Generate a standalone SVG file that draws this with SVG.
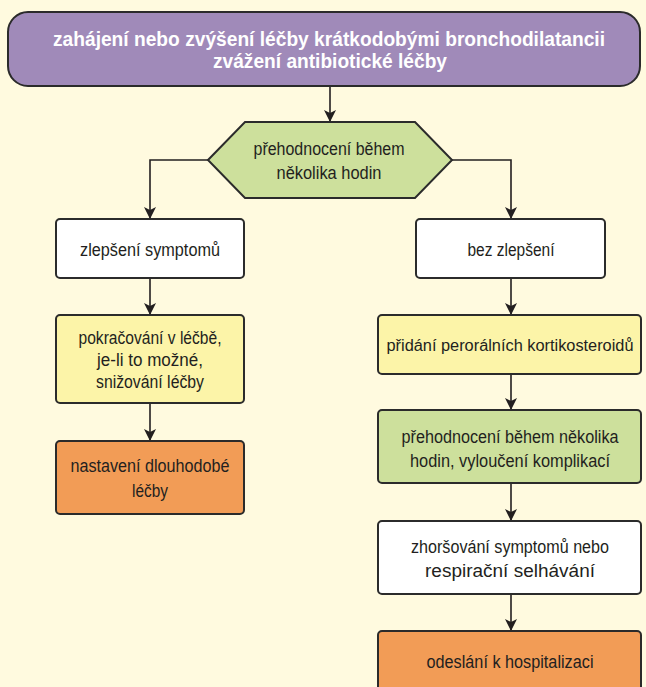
<svg xmlns="http://www.w3.org/2000/svg" width="646" height="687" viewBox="0 0 646 687">
<defs>
<marker id="ah" viewBox="0 0 12 12" refX="11" refY="6" markerWidth="12" markerHeight="12" markerUnits="userSpaceOnUse" orient="auto">
<path d="M0,0 L12,6 L0,12 L3,6 z" fill="#231F20"/>
</marker>
<style>
.bx{stroke:#2B2B2B;stroke-width:2}
.t{font-family:"Liberation Sans",Arial,sans-serif;font-size:17.5px;fill:#231F20;text-anchor:middle}
.tt{font-family:"Liberation Sans",Arial,sans-serif;font-size:19.5px;font-weight:bold;fill:#FFFFFF;text-anchor:middle}
.c{fill:none;stroke:#231F20;stroke-width:1.6}
</style>
</defs>
<rect x="0" y="0" width="646" height="687" fill="#FFFADF"/>
<g id="connectors">
<path class="c" d="M330,87 V121" marker-end="url(#ah)"/>
<path class="c" d="M208,160 H150 V218" marker-end="url(#ah)"/>
<path class="c" d="M452,160 H511 V218" marker-end="url(#ah)"/>
<path class="c" d="M150,278 V314" marker-end="url(#ah)"/>
<path class="c" d="M150,403 V440" marker-end="url(#ah)"/>
<path class="c" d="M511,278 V314" marker-end="url(#ah)"/>
<path class="c" d="M511,374 V409" marker-end="url(#ah)"/>
<path class="c" d="M511,483 V520" marker-end="url(#ah)"/>
<path class="c" d="M511,594 V630" marker-end="url(#ah)"/>
</g>
<g id="start">
<rect class="bx" x="8" y="12" width="632" height="74" rx="20" fill="#A08AB9"/>
<text class="tt" x="329" y="46" textLength="552" lengthAdjust="spacingAndGlyphs">zahájení nebo zvýšení léčby krátkodobými bronchodilatancii</text>
<text class="tt" x="330" y="68" textLength="234" lengthAdjust="spacingAndGlyphs">zvážení antibiotické léčby</text>
</g>
<g id="reassess">
<polygon class="bx" points="208,160 245,122 415,122 452,160 415,198 245,198" fill="#CDE09C"/>
<text class="t" x="329" y="155" textLength="151" lengthAdjust="spacingAndGlyphs">přehodnocení během</text>
<text class="t" x="329" y="179" textLength="105" lengthAdjust="spacingAndGlyphs">několika hodin</text>
</g>
<g id="improved">
<rect class="bx" x="56" y="219" width="188" height="59" rx="4" fill="#FFFFFF"/>
<text class="t" x="150" y="256" textLength="140" lengthAdjust="spacingAndGlyphs">zlepšení symptomů</text>
</g>
<g id="continue">
<rect class="bx" x="56" y="315" width="188" height="88" rx="4" fill="#FCF4A8"/>
<text class="t" x="150" y="344" textLength="143" lengthAdjust="spacingAndGlyphs">pokračování v léčbě,</text>
<text class="t" x="150" y="366" textLength="106" lengthAdjust="spacingAndGlyphs">je-li to možné,</text>
<text class="t" x="150" y="388" textLength="108" lengthAdjust="spacingAndGlyphs">snižování léčby</text>
</g>
<g id="longterm">
<rect class="bx" x="56" y="441" width="188" height="73" rx="4" fill="#F29C56"/>
<text class="t" x="150" y="472" textLength="159" lengthAdjust="spacingAndGlyphs">nastavení dlouhodobé</text>
<text class="t" x="150" y="497" textLength="36" lengthAdjust="spacingAndGlyphs">léčby</text>
</g>
<g id="noimprove">
<rect class="bx" x="416" y="219" width="189" height="59" rx="4" fill="#FFFFFF"/>
<text class="t" x="511" y="256" textLength="87" lengthAdjust="spacingAndGlyphs">bez zlepšení</text>
</g>
<g id="steroids">
<rect class="bx" x="378" y="315" width="263" height="59" rx="4" fill="#FCF4A8"/>
<text class="t" x="510" y="351" style="font-size:16px" textLength="247" lengthAdjust="spacingAndGlyphs">přidání perorálních kortikosteroidů</text>
</g>
<g id="reassess2">
<rect class="bx" x="378" y="410" width="263" height="73" rx="4" fill="#CDE09C"/>
<text class="t" x="510" y="443" textLength="217" lengthAdjust="spacingAndGlyphs">přehodnocení během několika</text>
<text class="t" x="510" y="467" textLength="200" lengthAdjust="spacingAndGlyphs">hodin, vyloučení komplikací</text>
</g>
<g id="worsening">
<rect class="bx" x="378" y="521" width="263" height="73" rx="4" fill="#FFFFFF"/>
<text class="t" x="510" y="553" textLength="198" lengthAdjust="spacingAndGlyphs">zhoršování symptomů nebo</text>
<text class="t" x="510" y="577" textLength="170" lengthAdjust="spacingAndGlyphs">respirační selhávání</text>
</g>
<g id="hospital">
<rect class="bx" x="378" y="631" width="263" height="70" rx="4" fill="#F29C56"/>
<text class="t" x="510" y="668" textLength="167" lengthAdjust="spacingAndGlyphs">odeslání k hospitalizaci</text>
</g>
</svg>
